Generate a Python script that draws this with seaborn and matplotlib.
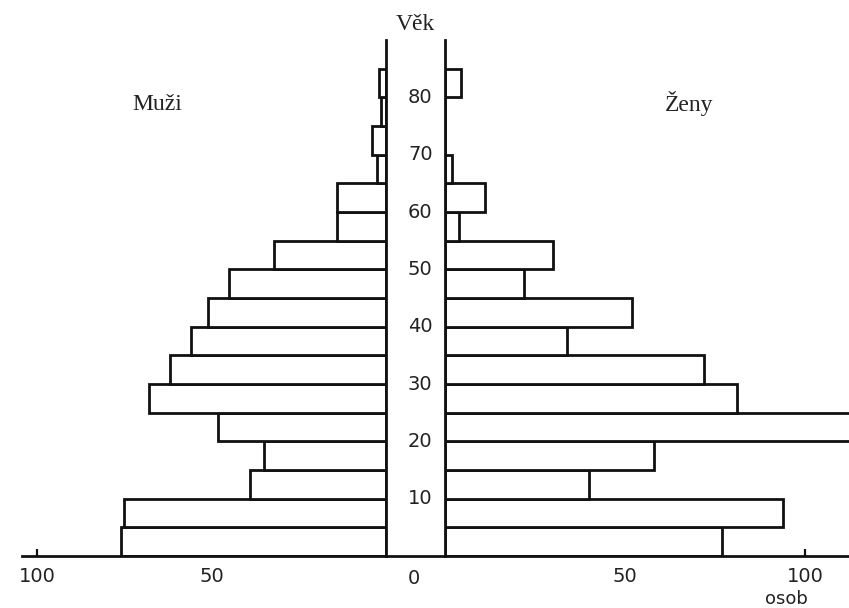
import numpy as np
import pandas as pd
import matplotlib
matplotlib.use("Agg")
import matplotlib.pyplot as plt
import matplotlib.transforms as mtransforms
import seaborn as sns

# ---- data ----
age_start = [0, 5, 10, 15, 20, 25, 30, 35, 40, 45, 50, 55, 60, 65, 70, 75, 80]
muzi = [76, 75, 39, 35, 48, 68, 62, 56, 51, 45, 32, 14, 14, 2.5, 4, 1.5, 2]
zeny = [77, 94, 40, 58, 120, 81, 72, 34, 52, 22, 30, 4, 11, 2, 0, 0, 4.5]
age_ticks = [10, 20, 30, 40, 50, 60, 70, 80]
left_ticks = [100, 50]
right_ticks = [50, 100]

sns.set_theme(style="white")
plt.rcParams["font.family"] = ["DejaVu Sans"]
plt.rcParams["xtick.direction"] = "in"
SERIF = ["Liberation Serif", "DejaVu Serif"]

W, H = 849, 608
fig = plt.figure(figsize=(W / 100, H / 100), dpi=100)
fig.patch.set_facecolor("white")


def ax_at(x0, x1, y0, y1):
    return fig.add_axes([x0 / W, 1 - y1 / H, (x1 - x0) / W, (y1 - y0) / H])


axL = ax_at(22, 386, 40, 556)
axC = ax_at(386, 445, 40, 556)
axR = ax_at(445, 849, 40, 556)

df = pd.DataFrame({"mid": np.array(age_start) + 2.5, "muzi": muzi, "zeny": zeny})

LW = 2.0
for ax, col in [(axL, "muzi"), (axR, "zeny")]:
    sns.barplot(data=df, x=col, y="mid", orient="h", native_scale=True,
                width=1, color="white", saturation=1, edgecolor="#111111",
                linewidth=LW, errorbar=None, ax=ax)
    ax.set_xlabel("")
    ax.set_ylabel("")
    ax.set_ylim(0, 90)
    ax.set_yticks([])
    ax.set_facecolor("none")
    for s in ax.spines.values():
        s.set_color("#111111")
        s.set_linewidth(LW)
    ax.spines["top"].set_visible(False)
    ax.tick_params(axis="x", bottom=True, direction="in", length=5, width=1.6,
                   color="#111111", pad=8, labelsize=14, labelcolor="#222222")

axL.set_xlim(104.3, 0)
axL.spines["left"].set_visible(False)
axL.set_xticks(left_ticks)
axL.set_xticklabels([str(t) for t in left_ticks])

axR.set_xlim(0, 112.2)
axR.spines["right"].set_visible(False)
axR.set_xticks(right_ticks)
axR.set_xticklabels([str(t) for t in right_ticks])
for lab in axR.get_xticklabels():
    if lab.get_text() == "100":
        lab.set_x(103)

# centre column: age labels and zero
axC.set_xlim(0, 1)
axC.set_ylim(0, 90)
axC.set_facecolor("none")
axC.set_yticks([])
axC.set_xticks([0.48])
axC.set_xticklabels(["0"])
axC.tick_params(axis="x", length=0, pad=9, labelsize=14, labelcolor="#222222")
for side in ["top", "left", "right"]:
    axC.spines[side].set_visible(False)
axC.spines["bottom"].set_color("#111111")
axC.spines["bottom"].set_linewidth(LW)
for a in age_ticks:
    axC.text(0.58, a, str(a), ha="center", va="center", fontsize=14,
             color="#222222")

# texts
trR = mtransforms.blended_transform_factory(axR.transData, axR.transAxes)
axR.text(94.7, -0.083, "osob", transform=trR, ha="center", va="center",
         fontsize=13, color="#222222")
fig.text(415 / W, 1 - 24 / H, "Věk", ha="center", va="center",
         fontsize=17, family=SERIF, color="#222222")
fig.text(157 / W, 1 - 105 / H, "Muži", ha="center", va="center",
         fontsize=17, family=SERIF, color="#222222")
fig.text(689 / W, 1 - 104 / H, "Ženy", ha="center", va="center",
         fontsize=17, family=SERIF, color="#222222")

fig.savefig("out.png", dpi=100, facecolor="white")
